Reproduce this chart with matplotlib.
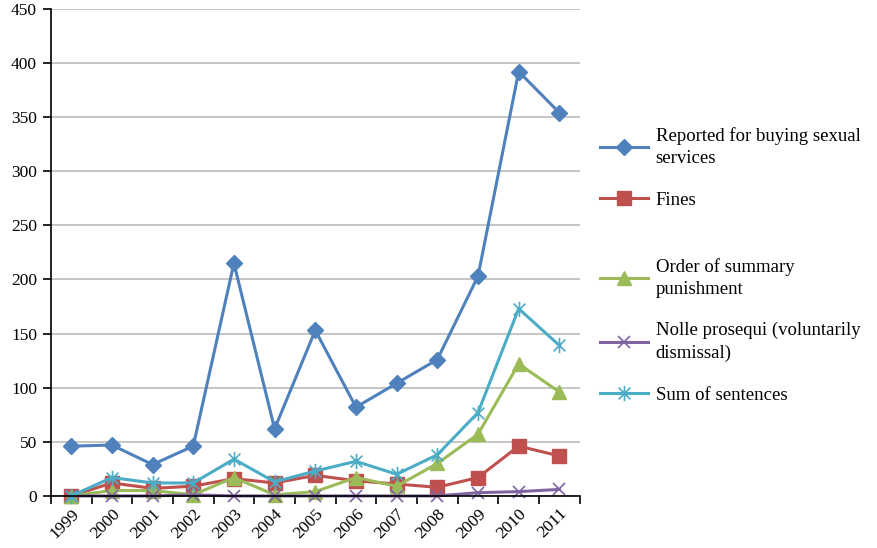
import matplotlib
matplotlib.use("Agg")
import matplotlib.pyplot as plt
from matplotlib.path import Path
import numpy as np

plt.rcParams['font.family'] = ['Liberation Serif', 'DejaVu Serif']

years = ["1999", "2000", "2001", "2002", "2003", "2004", "2005",
         "2006", "2007", "2008", "2009", "2010", "2011"]
reported = [46, 47, 29, 46, 215, 62, 153, 82, 104, 126, 203, 392, 354]
fines = [0, 12, 7, 9, 16, 12, 19, 14, 11, 8, 17, 46, 37]
summary = [0, 5, 5, 1, 17, 1, 4, 17, 9, 30, 57, 122, 96]
nolle = [0, 0, 0, 1, 0, 0, 0, 0, 0, 0, 3, 4, 6]
sentences = [0, 17, 12, 12, 34, 13, 23, 32, 20, 38, 77, 173, 139]

labels = ["Reported for buying sexual\nservices", "Fines",
          "Order of summary\npunishment", "Nolle prosequi (voluntarily\ndismissal)",
          "Sum of sentences"]

# asterisk marker: an x with a vertical bar
star = Path([(-1, -1), (1, 1), (-1, 1), (1, -1), (0, -1.3), (0, 1.3)],
            [Path.MOVETO, Path.LINETO, Path.MOVETO, Path.LINETO, Path.MOVETO, Path.LINETO])

styles = [
    dict(color="#4F81BD", marker="D", markersize=8.5),
    dict(color="#C0504D", marker="s", markersize=10),
    dict(color="#9BBB59", marker="^", markersize=10),
    dict(color="#8064A2", marker="x", markersize=9, markeredgewidth=1.2),
    dict(color="#4BACC6", marker=star, markersize=11, markeredgewidth=1.2),
]
series = [reported, fines, summary, nolle, sentences]

fig = plt.figure(figsize=(8.77, 5.48), dpi=100)
ax = fig.add_axes([0.058, 0.095, 0.603, 0.889])

x = np.arange(len(years))
handles = []
for vals, st, lab in zip(series, styles, labels):
    h, = ax.plot(x, vals, linewidth=2.2, label=lab, clip_on=False, **st)
    handles.append(h)

ax.set_xlim(-0.5, len(years) - 0.5)
ax.set_ylim(0, 450)
ax.set_yticks(np.arange(0, 451, 50))
ax.yaxis.grid(True, color="#C0C0C0", linewidth=1.3)
ax.set_axisbelow(True)

ax.set_xticks(np.arange(-0.5, len(years), 1))
ax.set_xticklabels([])
ax.set_xticks(x, minor=True)
ax.set_xticklabels(years, minor=True, rotation=45, ha="right", rotation_mode="anchor")
ax.tick_params(axis="x", which="minor", length=0, labelsize=12.5, pad=7)
ax.tick_params(axis="x", which="major", length=6, width=1.2, direction="out")
ax.tick_params(axis="y", length=6, width=1.2, labelsize=12.5, pad=4)

for s in ["top", "right"]:
    ax.spines[s].set_visible(False)
for s in ["left", "bottom"]:
    ax.spines[s].set_linewidth(1.2)
    ax.spines[s].set_color("black")

# legend entries placed one by one to keep the original uneven spacing
centers = [147, 200, 278, 342, 395]
for h, lab, cy in zip(handles, labels, centers):
    leg = fig.legend([h], [lab], loc="center left", bbox_to_anchor=(592 / 877, 1 - cy / 548),
                     frameon=False, fontsize=13.5, handlelength=2.6, handletextpad=0.4,
                     borderaxespad=0)
    for t in leg.get_texts():
        t.set_linespacing(1.45)

fig.savefig("out.png", dpi=100)
